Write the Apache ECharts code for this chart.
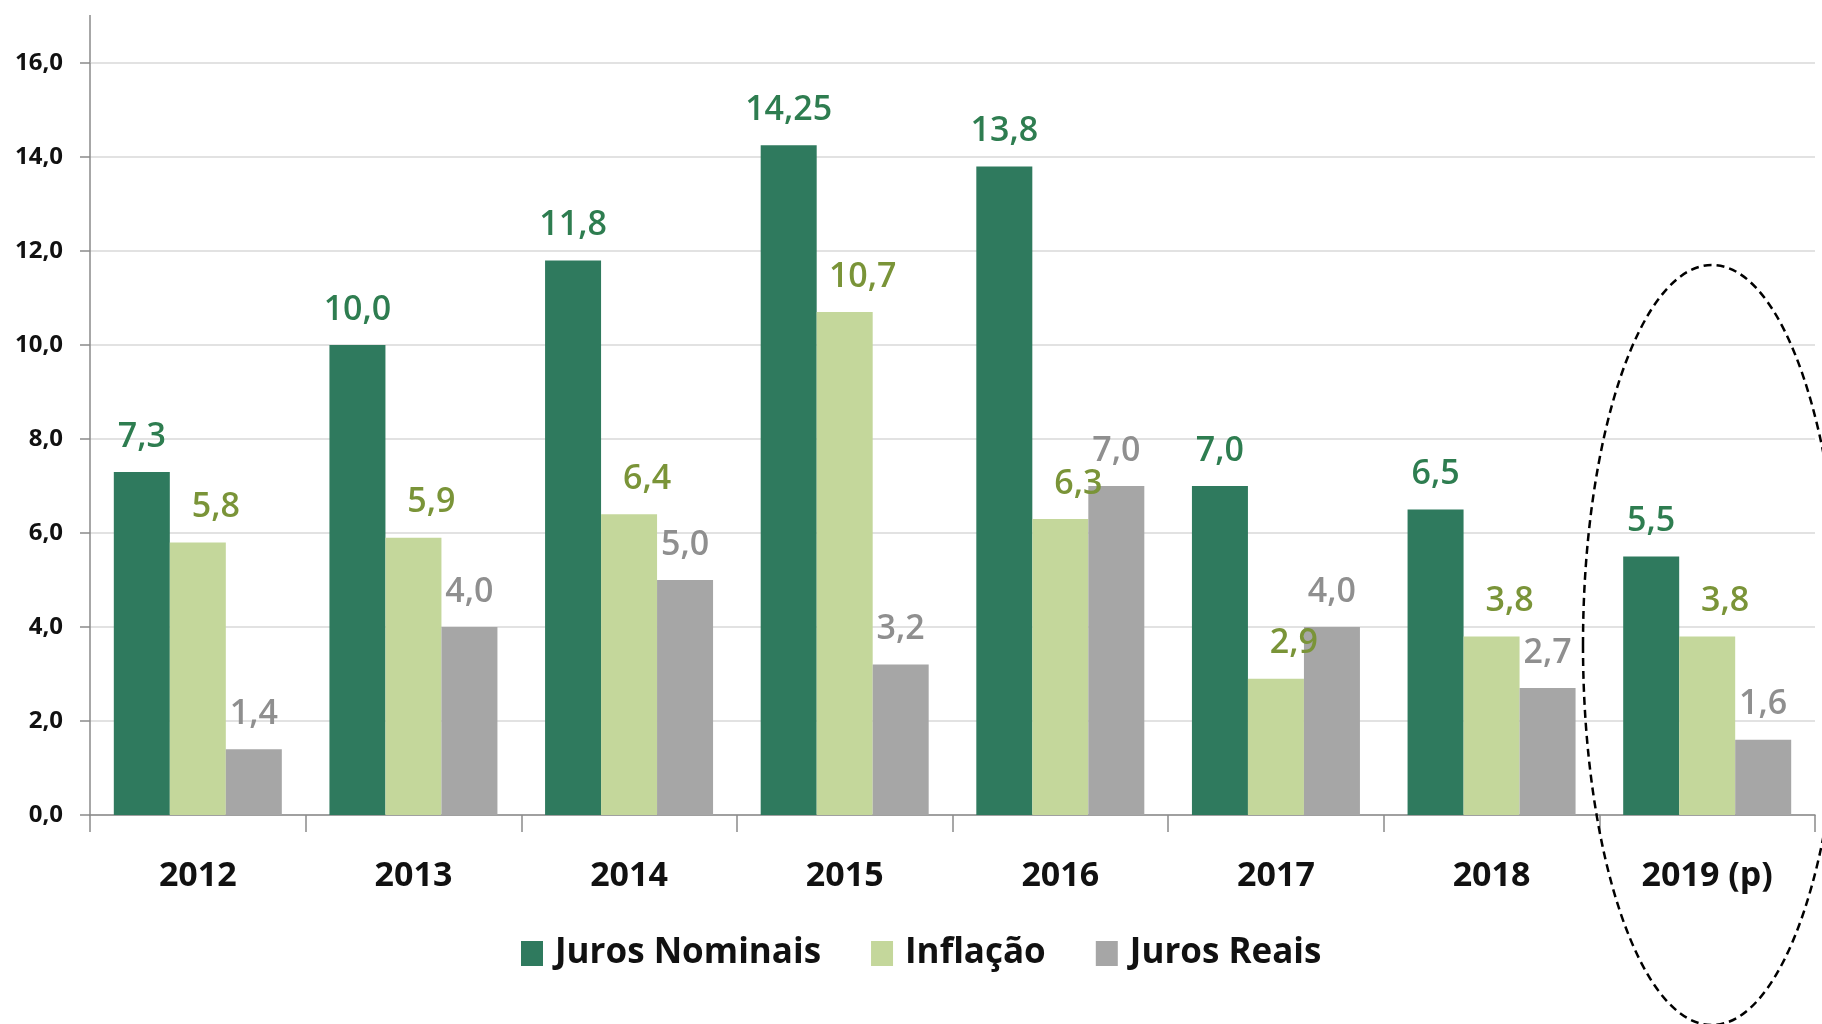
<!DOCTYPE html>
<html>
<head>
<meta charset="utf-8">
<script src="https://cdn.jsdelivr.net/npm/echarts@6/dist/echarts.min.js"></script>
<style>
    html, body { margin: 0; padding: 0; background: #fff; }
    #main { width: 1822px; height: 1024px; }
</style>
</head>
<body>
<div id="main"></div>
<script>
var anos = ['2012', '2013', '2014', '2015', '2016', '2017', '2018', '2019 (p)'];
var jurosNominais = [7.3, 10.0, 11.8, 14.25, 13.8, 7.0, 6.5, 5.5];
var inflacao = [5.8, 5.9, 6.4, 10.7, 6.3, 2.9, 3.8, 3.8];
var jurosReais = [1.4, 4.0, 5.0, 3.2, 7.0, 4.0, 2.7, 1.6];
var eixoY = [0, 2, 4, 6, 8, 10, 12, 14, 16];

var fonte = '"Open Sans", "Liberation Sans", sans-serif';

// 7.3 -> "7,3", 14.25 -> "14,25"
function virgula(v) {
    var s = Math.round(v * 10) === v * 10 ? v.toFixed(1) : String(v);
    return s.replace('.', ',');
}

function serie(nome, dados, cor, corLabel, offset) {
    return {
        name: nome,
        type: 'bar',
        data: dados,
        barWidth: 56,
        barGap: '0%',
        itemStyle: { color: cor },
        label: {
            show: true,
            position: 'top',
            distance: 18,
            offset: offset,
            color: corLabel,
            fontFamily: fonte,
            fontSize: 34,
            fontWeight: 600,
            formatter: function (p) { return virgula(p.value); }
        }
    };
}

var myChart = echarts.init(document.getElementById('main'));

myChart.setOption({
    animation: false,
    grid: {
        left: 90,
        right: 7,
        top: 63,
        bottom: 209
    },
    legend: {
        left: 521,
        top: 936,
        padding: 0,
        itemWidth: 22,
        itemHeight: 25,
        itemGap: 50,
        icon: 'rect',
        textStyle: {
            color: '#111',
            fontFamily: fonte,
            fontSize: 35,
            fontWeight: 700,
            padding: [0, 0, 0, 7]
        }
    },
    xAxis: {
        type: 'category',
        data: anos,
        axisLine: { lineStyle: { color: '#8a8a8a', width: 1.5 } },
        axisTick: { show: true, length: 17, lineStyle: { color: '#8a8a8a', width: 1.5 } },
        axisLabel: {
            margin: 44,
            color: '#111',
            fontFamily: fonte,
            fontSize: 34,
            fontWeight: 700
        }
    },
    yAxis: {
        type: 'value',
        min: eixoY[0],
        max: eixoY[eixoY.length - 1],
        interval: 2,
        axisLine: { show: true, lineStyle: { color: '#8a8a8a', width: 1.5 } },
        axisTick: { show: true, length: 10, lineStyle: { color: '#8a8a8a', width: 1.5 } },
        splitLine: { lineStyle: { color: '#d9d9d9', width: 1.5 } },
        axisLabel: {
            margin: 27,
            color: '#111',
            fontFamily: fonte,
            fontSize: 24,
            fontWeight: 700,
            formatter: function (v) { return v.toFixed(1).replace('.', ','); }
        }
    },
    graphic: [
        {
            // eixo Y continua um pouco acima do 16,0
            type: 'line',
            shape: { x1: 90, y1: 15, x2: 90, y2: 63 },
            style: { stroke: '#8a8a8a', lineWidth: 1.5 }
        },
        {
            type: 'ellipse',
            shape: { cx: 1712, cy: 645, rx: 129, ry: 380 },
            style: { fill: 'none', stroke: '#000', lineWidth: 2.5, lineDash: [8, 5] },
            z: 100
        }
    ],
    series: [
        serie('Juros Nominais', jurosNominais, '#2f7a5e', '#2e7d50', [0, 0]),
        serie('Inflação', inflacao, '#c4d79b', '#7a9438', [18, 0]),
        serie('Juros Reais', jurosReais, '#a6a6a6', '#8f8f8f', [0, 0])
    ]
});
</script>
</body>
</html>
